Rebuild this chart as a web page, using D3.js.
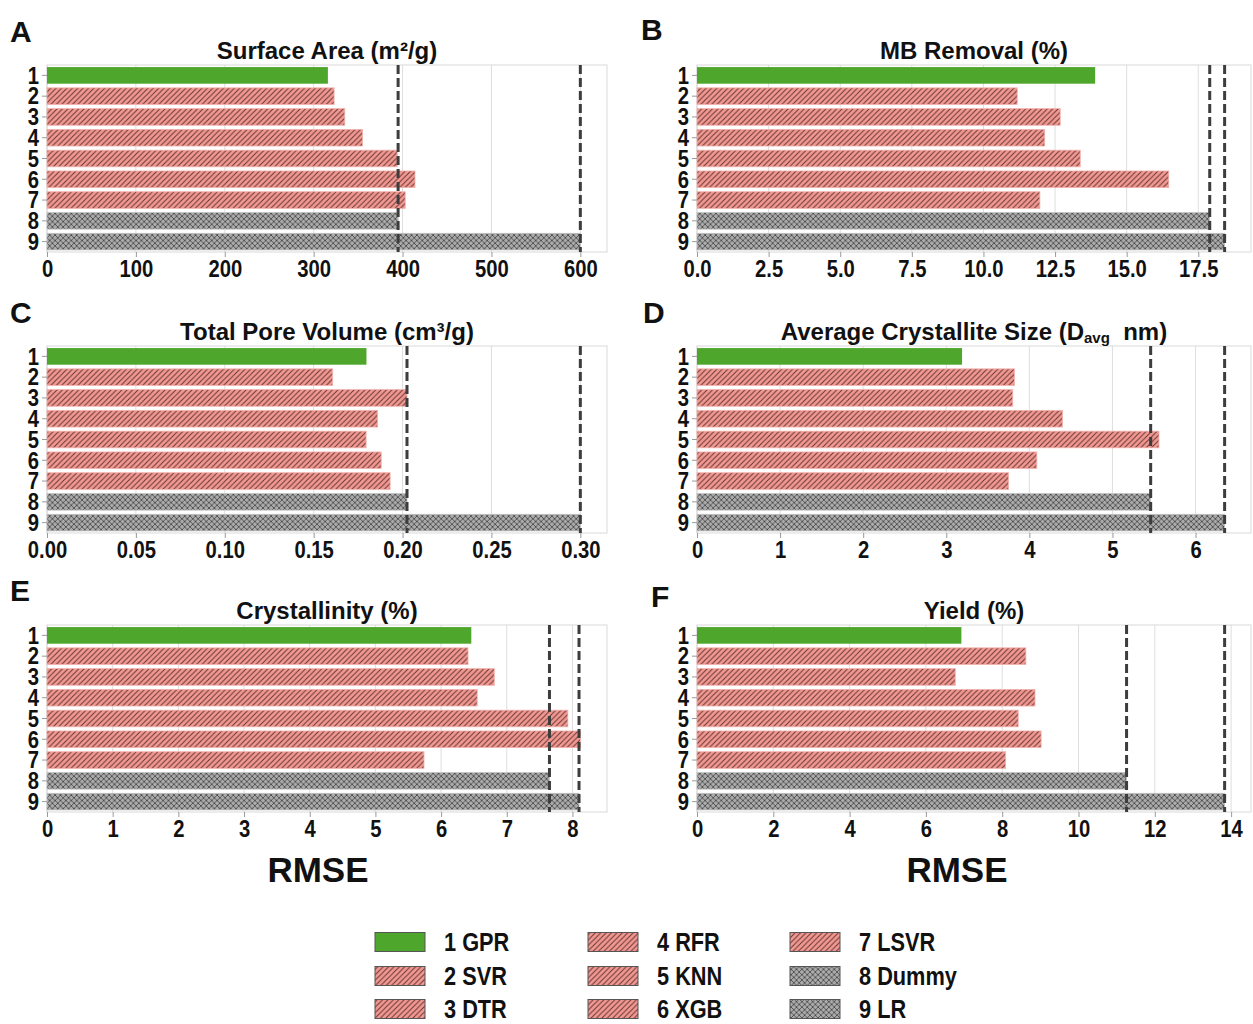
<!DOCTYPE html>
<html>
<head>
<meta charset="utf-8">
<script src="https://cdn.jsdelivr.net/npm/d3@7"></script>
<style>
  html, body { margin: 0; padding: 0; background: #ffffff; }
  svg { display: block; font-family: "Liberation Sans", Arial, sans-serif; }
</style>
</head>
<body>
<svg id="chart" width="1253" height="1024"></svg>
<script>
// ---------------- DATA ----------------
const categories = ["1", "2", "3", "4", "5", "6", "7", "8", "9"];
const modelNames = ["GPR", "SVR", "DTR", "RFR", "KNN", "XGB", "LSVR", "Dummy", "LR"];
const modelGroup = ["best", "ml", "ml", "ml", "ml", "ml", "ml", "base", "base"];

const panelLetters = ["A", "B", "C", "D", "E", "F"];
const panelTitles = [
  "Surface Area (m\u00B2/g)",
  "MB Removal (%)",
  "Total Pore Volume (cm\u00B3/g)",
  "Average Crystallite Size (D|avg|\u00A0 nm)",
  "Crystallinity (%)",
  "Yield (%)"
];

const surfaceArea   = [316, 323, 335, 355, 394, 414, 403, 395, 600];
const mbRemoval     = [13.9, 11.18, 12.68, 12.14, 13.38, 16.47, 11.97, 17.9, 18.42];
const poreVolume    = [0.1797, 0.1607, 0.2025, 0.186, 0.1795, 0.188, 0.193, 0.2025, 0.300];
const crystalSize   = [3.19, 3.82, 3.80, 4.40, 5.56, 4.09, 3.75, 5.46, 6.35];
const crystallinity = [6.46, 6.41, 6.81, 6.55, 7.93, 8.12, 5.74, 7.65, 8.10];
const yieldRmse     = [6.93, 8.62, 6.77, 8.86, 8.42, 9.02, 8.09, 11.26, 13.83];

const ticksA = [0, 100, 200, 300, 400, 500, 600];
const ticksB = [0, 2.5, 5, 7.5, 10, 12.5, 15, 17.5];
const ticksC = [0, 0.05, 0.10, 0.15, 0.20, 0.25, 0.30];
const ticksD = [0, 1, 2, 3, 4, 5, 6];
const ticksE = [0, 1, 2, 3, 4, 5, 6, 7, 8];
const ticksF = [0, 2, 4, 6, 8, 10, 12, 14];

const tickFormats = [",.0f", ".1f", ".2f", ".0f", ".0f", ".0f"];
const seriesList = [surfaceArea, mbRemoval, poreVolume, crystalSize, crystallinity, yieldRmse];
const tickList = [ticksA, ticksB, ticksC, ticksD, ticksE, ticksF];

const axisTitle = "RMSE";

// ---------------- LAYOUT ----------------
const svg = d3.select("#chart");
const FONT = "\"Liberation Sans\", Arial, sans-serif";

const defs = svg.append("defs");
// diagonal hatch (red)
const ph = defs.append("pattern").attr("id", "hatch").attr("patternUnits", "userSpaceOnUse")
  .attr("width", 5.4).attr("height", 5.4);
ph.append("rect").attr("width", 5.4).attr("height", 5.4).attr("fill", "#f29891");
ph.append("path").attr("d", "M-1,1 L1,-1 M0,5.4 L5.4,0 M4.4,6.4 L6.4,4.4")
  .attr("stroke", "#5e3331").attr("stroke-width", 0.95);
// crosshatch (grey)
const pc = defs.append("pattern").attr("id", "cross").attr("patternUnits", "userSpaceOnUse")
  .attr("width", 5.4).attr("height", 5.4);
pc.append("rect").attr("width", 5.4).attr("height", 5.4).attr("fill", "#ababab");
pc.append("path").attr("d", "M0,0 L5.4,5.4 M5.4,0 L0,5.4")
  .attr("stroke", "#3a3a3a").attr("stroke-width", 0.75);

const fillFor = g => g === "best" ? "#4fa62c" : (g === "ml" ? "url(#hatch)" : "url(#cross)");
const strokeFor = g => g === "best" ? "none" : (g === "ml" ? "#f3b1ac" : "#c4c4c4");

const colX = [47, 697];
const colW = [560, 554];
const rowTop = [65, 346, 625];
const plotH = 187;
const labelPos = [[10, 42], [641, 40], [10, 323], [643, 323], [10, 601], [651, 607]];

seriesList.forEach((vals, i) => {
  const col = i % 2, row = Math.floor(i / 2);
  const x0 = colX[col], w = colW[col], y0 = rowTop[row];
  const g = svg.append("g").attr("transform", `translate(${x0},${y0})`);

  const xmax = d3.max(vals) * 1.05;
  const x = d3.scaleLinear().domain([0, xmax]).range([0, w]);
  const y = d3.scaleBand().domain(categories).range([0, plotH]).paddingInner(0.2).paddingOuter(0.1);

  // grid
  g.selectAll("line.grid").data(tickList[i]).enter().append("line")
    .attr("class", "grid")
    .attr("x1", d => x(d)).attr("x2", d => x(d))
    .attr("y1", 0).attr("y2", plotH)
    .attr("stroke", "#dedede").attr("stroke-width", 1);
  // frame
  g.append("rect").attr("x", 0).attr("y", 0).attr("width", w).attr("height", plotH)
    .attr("fill", "none").attr("stroke", "#d9d9d9").attr("stroke-width", 1);

  // bars
  g.selectAll("rect.bar").data(vals).enter().append("rect")
    .attr("class", "bar")
    .attr("x", 0)
    .attr("y", (d, k) => y(categories[k]))
    .attr("width", d => x(d))
    .attr("height", y.bandwidth())
    .attr("fill", (d, k) => fillFor(modelGroup[k]))
    .attr("stroke", (d, k) => strokeFor(modelGroup[k]))
    .attr("stroke-width", 0.8);

  // dashed reference lines at Dummy & LR
  g.selectAll("line.ref").data([vals[7], vals[8]]).enter().append("line")
    .attr("class", "ref")
    .attr("x1", d => x(d)).attr("x2", d => x(d))
    .attr("y1", 0).attr("y2", plotH)
    .attr("stroke", "#3d3d3d").attr("stroke-width", 3)
    .attr("stroke-dasharray", "9,4");

  // x axis
  const xa = g.append("g").attr("transform", `translate(0,${plotH})`)
    .call(d3.axisBottom(x).tickValues(tickList[i]).tickFormat(d3.format(tickFormats[i]))
      .tickSize(5).tickPadding(4));
  xa.select(".domain").remove();
  xa.selectAll(".tick line").attr("stroke", "#9a9a9a");
  xa.selectAll(".tick text").attr("fill", "#111").attr("font-size", 23)
    .attr("font-weight", "bold").attr("font-family", FONT)
    .attr("transform", "scale(0.88,1)");

  // y axis
  const ya = g.append("g")
    .call(d3.axisLeft(y).tickSize(5).tickPadding(4));
  ya.select(".domain").remove();
  ya.selectAll(".tick line").attr("stroke", "#9a9a9a");
  ya.selectAll(".tick text").attr("fill", "#111").attr("font-size", 23)
    .attr("font-weight", "bold").attr("font-family", FONT).attr("dy", "0.36em")
    .attr("transform", "scale(0.88,1)");

  // title
  const t = g.append("text").attr("x", w / 2).attr("y", -6).attr("text-anchor", "middle")
    .attr("font-size", 24).attr("font-weight", "bold").attr("fill", "#111");
  const parts = panelTitles[i].split("|");
  if (parts.length === 1) {
    t.text(parts[0]);
  } else {
    t.append("tspan").text(parts[0]);
    t.append("tspan").text(parts[1]).attr("font-size", 15).attr("dy", 3);
    t.append("tspan").text(parts[2]).attr("dy", -3);
  }

  // panel letter
  svg.append("text").attr("x", labelPos[i][0]).attr("y", labelPos[i][1])
    .attr("font-size", 30).attr("font-weight", "bold").attr("fill", "#111")
    .text(panelLetters[i]);
});

// RMSE axis titles
[[318, 882], [957, 882]].forEach(p => {
  svg.append("text").attr("x", p[0]).attr("y", p[1]).attr("text-anchor", "middle")
    .attr("font-size", 35).attr("font-weight", "bold").attr("fill", "#111").text(axisTitle);
});

// ---------------- LEGEND ----------------
const legX = [375, 588, 790];
const legY = [942, 976, 1009];
const leg = svg.append("g");
categories.forEach((c, k) => {
  const col = Math.floor(k / 3), row = k % 3;
  const lx = legX[col], ly = legY[row];
  leg.append("rect").attr("x", lx).attr("y", ly - 9.5).attr("width", 50).attr("height", 19)
    .attr("fill", fillFor(modelGroup[k])).attr("stroke", "#555").attr("stroke-width", 1);
  leg.append("g").attr("transform", `translate(${lx + 69},${ly + 8.5}) scale(0.87,1)`)
    .append("text").attr("x", 0).attr("y", 0)
    .attr("font-size", 25).attr("font-weight", "bold").attr("fill", "#111")
    .text(c + " " + modelNames[k]);
});
</script>
</body>
</html>
